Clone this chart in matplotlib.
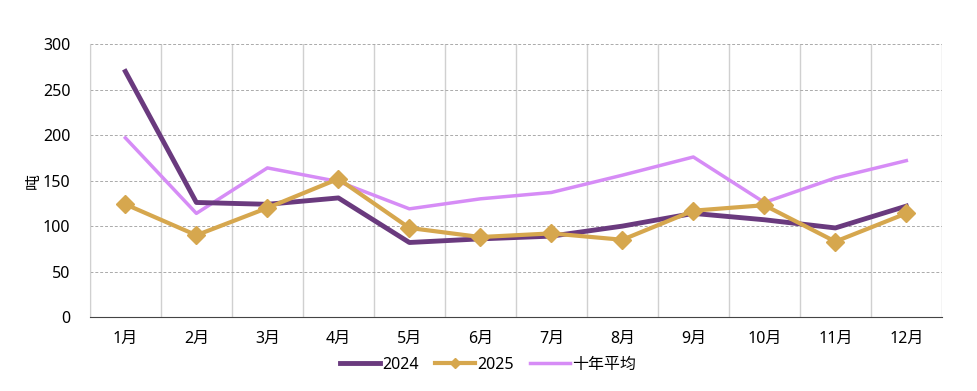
import matplotlib
matplotlib.use("Agg")
import matplotlib.pyplot as plt
from matplotlib.lines import Line2D

plt.rcParams["font.family"] = ["Noto Sans", "Noto Sans CJK SC", "DejaVu Sans"]
plt.rcParams["font.size"] = 11.5

months = ["1月", "2月", "3月", "4月", "5月", "6月", "7月", "8月", "9月", "10月", "11月", "12月"]
y2024 = [270, 126, 124, 131, 82, 86, 89, 100, 114, 107, 98, 122]
y2025 = [124, 90, 120, 152, 98, 88, 92, 85, 117, 123, 83, 114]
avg10 = [197, 114, 164, 149, 119, 130, 137, 156, 176, 126, 153, 172]

c24, c25, cav = "#6a3a7e", "#d6a74e", "#d68cf6"

fig = plt.figure(figsize=(9.77, 3.91), dpi=100)
ax = fig.add_axes([0.092, 0.189, 0.872, 0.698])
x = list(range(len(months)))

ax.plot(x, avg10, color=cav, lw=2.5, zorder=3)
ax.plot(x, y2024, color=c24, lw=3.5, zorder=4)
ax.plot(x, y2025, color=c25, lw=3, marker="D", ms=9, zorder=5)

ax.set_xlim(-0.5, 11.5)
ax.set_ylim(0, 300)
ax.set_yticks(range(0, 301, 50))
ax.set_xticks(x)
ax.set_xticklabels(months)
ax.set_xticks([i + 0.5 for i in range(-1, 12)], minor=True)
ax.grid(axis="y", which="major", ls=(0, (3, 2)), color="#aaaaaa", lw=0.7)
ax.grid(axis="x", which="minor", ls="-", color="#d0d0d0", lw=1.0)
ax.tick_params(which="both", length=0)
ax.tick_params(axis="x", pad=10)
ax.tick_params(axis="y", pad=14)
for s in ["top", "right"]:
    ax.spines[s].set_visible(False)
ax.spines["left"].set_color("#d0d0d0")
ax.spines["bottom"].set_color("#444444")
ax.set_ylabel("吨", labelpad=1)

handles = [Line2D([], [], color=c24, lw=3.5),
           Line2D([], [], color=c25, lw=3, marker="D", ms=5),
           Line2D([], [], color=cav, lw=2.5)]
fig.legend(handles, ["2024", "2025", "十年平均"], loc="lower center",
           bbox_to_anchor=(0.5, 0.01), ncol=3, frameon=False, fontsize=11.5,
           handlelength=2.5, handletextpad=0.15, columnspacing=1.0)

fig.savefig("out.png", dpi=100)
